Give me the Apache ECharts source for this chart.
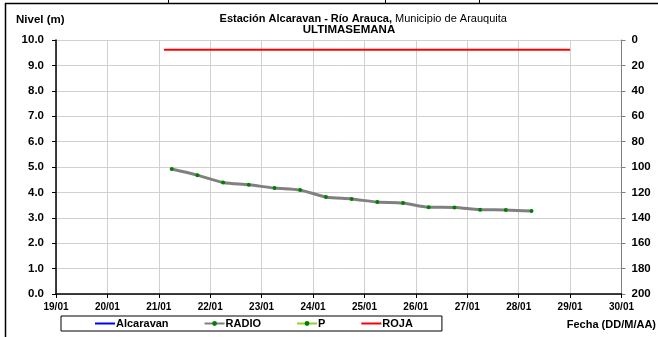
<!DOCTYPE html>
<html>
<head>
<meta charset="utf-8">
<script src="https://cdn.jsdelivr.net/npm/echarts@6/dist/echarts.min.js"></script>
<style>html,body{margin:0;padding:0;background:#fff}#c{width:658px;height:337px}</style>
</head>
<body>
<div id="c"></div>
<script>
// Data
const dayLabels = ['19/01','20/01','21/01','22/01','23/01','24/01','25/01','26/01','27/01','28/01','29/01','30/01'];
const radioTimes = [21.25,21.75,22.25,22.75,23.25,23.75,24.25,24.75,25.25,25.75,26.25,26.75,27.25,27.75,28.25];
const radioValues = [4.92,4.68,4.39,4.30,4.17,4.09,3.82,3.74,3.62,3.58,3.42,3.41,3.32,3.31,3.27];
const rojaTimes = [21.1, 29.0];
const rojaValues = [9.62, 9.62];
const leftTicks = ['0.0','1.0','2.0','3.0','4.0','5.0','6.0','7.0','8.0','9.0','10.0'];

const FONT = 'Liberation Sans';
const chart = echarts.init(document.getElementById('c'), null, {renderer:'canvas'});
const zip = (xs, ys) => xs.map((x,i)=>[x, ys[i]]);

chart.setOption({
  animation:false,
  backgroundColor:'#fff',
  grid:{left:56, right:36.5, top:40, bottom:43, containLabel:false},
  xAxis:{
    type:'value', min:19, max:30, interval:1,
    axisLine:{show:true, onZero:false, lineStyle:{color:'#000', width:1.5}},
    axisTick:{show:true, length:4, inside:false, lineStyle:{color:'#000'}},
    axisLabel:{formatter:v=>dayLabels[Math.round(v-19)], color:'#000', fontFamily:FONT, fontWeight:'bold', fontSize:10, margin:8},
    splitLine:{show:true, lineStyle:{color:'#d0d0d0', width:1}}
  },
  yAxis:[{
    type:'value', min:0, max:10, interval:1, position:'left',
    axisLine:{show:true, lineStyle:{color:'#000', width:1.5}},
    axisTick:{show:true, length:4, lineStyle:{color:'#000'}},
    axisLabel:{formatter:v=>leftTicks[Math.round(v)], color:'#000', fontFamily:FONT, fontWeight:'bold', fontSize:11.5, margin:12},
    splitLine:{show:true, lineStyle:{color:'#d0d0d0', width:1}}
  },{
    type:'value', min:0, max:200, interval:20, position:'right', inverse:true,
    axisLine:{show:true, lineStyle:{color:'#808080', width:1}},
    axisTick:{show:true, length:4, lineStyle:{color:'#808080'}},
    axisLabel:{color:'#000', fontFamily:FONT, fontWeight:'bold', fontSize:11.5, margin:10},
    splitLine:{show:false}
  }],
  legend:{
    left:61, top:316, padding:[2,29,2,33], itemGap:35, itemWidth:20, itemHeight:6,
    borderColor:'#000', borderWidth:1,
    textStyle:{fontFamily:FONT, fontWeight:'bold', fontSize:11, color:'#000', padding:[0,0,0,-4]},
    data:[
      {name:'Alcaravan', itemStyle:{opacity:0}},
      {name:'RADIO'},
      {name:'P'},
      {name:'ROJA', itemStyle:{opacity:0}}
    ]
  },
  series:[
    {name:'Alcaravan', type:'line', data:[], symbol:'none', lineStyle:{color:'#0000ff', width:2}, itemStyle:{color:'#0000ff'}},
    {name:'RADIO', type:'line', data:zip(radioTimes, radioValues), smooth:0.3, symbol:'circle', symbolSize:4,
     lineStyle:{color:'#808080', width:3}, itemStyle:{color:'#008000'}},
    {name:'P', type:'line', data:[], symbol:'circle', symbolSize:4, lineStyle:{color:'#99cc33', width:2}, itemStyle:{color:'#008000'}},
    {name:'ROJA', type:'line', data:zip(rojaTimes, rojaValues), symbol:'none', lineStyle:{color:'#ff0000', width:2}, itemStyle:{color:'#ff0000'}}
  ],
  graphic:[
    {type:'line', shape:{x1:5, y1:3.5, x2:658, y2:3.5}, style:{stroke:'#000', lineWidth:1.5}},
    {type:'line', shape:{x1:5.5, y1:3, x2:5.5, y2:337}, style:{stroke:'#000', lineWidth:1.5}},
    {type:'line', shape:{x1:168.5, y1:0, x2:168.5, y2:3}, style:{stroke:'#000', lineWidth:1}},
    {type:'line', shape:{x1:385.5, y1:0, x2:385.5, y2:3}, style:{stroke:'#000', lineWidth:1}},
    {type:'line', shape:{x1:479.5, y1:0, x2:479.5, y2:3}, style:{stroke:'#000', lineWidth:1}},
    {type:'text', left:16, top:14, style:{text:'Nivel (m)', font:'bold 11.5px "Liberation Sans"', fill:'#000'}},
    {type:'text', x:392, y:18.5, style:{text:'Estación Alcaravan - Río Arauca,', font:'bold 11px "Liberation Sans"', fill:'#000', align:'right', verticalAlign:'middle'}},
    {type:'text', x:395, y:18.5, style:{text:'Municipio de Arauquita', font:'11px "Liberation Sans"', fill:'#000', align:'left', verticalAlign:'middle'}},
    {type:'text', x:349, y:29.5, style:{text:'ULTIMASEMANA', font:'bold 11.5px "Liberation Sans"', fill:'#000', align:'center', verticalAlign:'middle'}},
    {type:'text', x:656, y:325, style:{text:'Fecha (DD/M/AA)', font:'bold 11px "Liberation Sans"', fill:'#000', align:'right', verticalAlign:'middle'}}
  ]
});
</script>
</body>
</html>
